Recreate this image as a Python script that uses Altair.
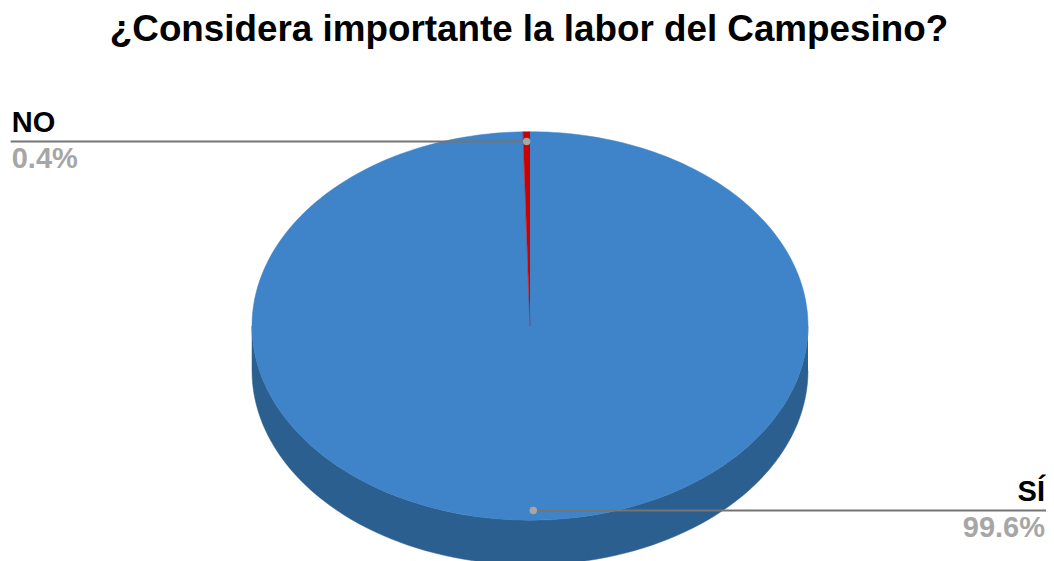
import math
import altair as alt
import pandas as pd

TITLE = "¿Considera importante la labor del Campesino?"
names = ["SÍ", "NO"]
shares = [99.6, 0.4]
labels = ["99.6%", "0.4%"]
colors = ["#3f83c8", "#cc0000"]
side_color = "#2b5f8f"
depth = 0.23       # pie thickness, in radii of the ellipse's short axis
dot_radius = 0.95  # where the leader line starts
label_edges = {"SÍ": 1.8561, "NO": -1.868}

X_DOM = [-1.8777, 1.8561]
Y_DOM = [-1.2103, 1.3795]

# polygons of the slices, clockwise from 12 o'clock
rows = []
start = 0.0
dots = []
for name, share, label, col in zip(names, shares, labels, colors):
    end = start + share / 100 * 360
    n = max(2, int(share * 3))
    order = 0
    rows.append(dict(slice=name, x=0.0, y=0.0, o=order))
    for i in range(n + 1):
        t = math.radians(start + (end - start) * i / n)
        order += 1
        rows.append(dict(slice=name, x=math.sin(t), y=math.cos(t), o=order))
    mid = math.radians((start + end) / 2)
    dots.append(dict(slice=name, label=label, x=dot_radius * math.sin(mid), y=dot_radius * math.cos(mid),
                     xe=label_edges[name]))
    start = end

# visible side of the pie: the lower half of the rim, shifted down
side = []
for i in range(91):
    t = math.radians(90 + i * 2)
    side.append(dict(x=math.sin(t), y=math.cos(t), o=i))
for i in range(91):
    t = math.radians(270 - i * 2)
    side.append(dict(x=math.sin(t), y=math.cos(t) - depth, o=91 + i))

xs = alt.Scale(domain=X_DOM, range=[0, 1038], nice=False, zero=False)
ys = alt.Scale(domain=Y_DOM, range=[503, 0], nice=False, zero=False)
X = alt.X("x:Q", scale=xs, axis=None)
Y = alt.Y("y:Q", scale=ys, axis=None)

side_layer = alt.Chart(pd.DataFrame(side)).mark_line(fill=side_color, stroke=side_color, strokeWidth=0.5, clip=True).encode(
    x=X, y=Y, order="o:Q")
slice_layer = alt.Chart(pd.DataFrame(rows)).mark_line(strokeWidth=0.5, clip=True).encode(
    x=X, y=Y, order="o:Q", detail="slice:N",
    stroke=alt.Color("slice:N", scale=alt.Scale(domain=names, range=colors), legend=None),
    fill=alt.Fill("slice:N", scale=alt.Scale(domain=names, range=colors), legend=None))

dd = pd.DataFrame(dots)
leader = alt.Chart(dd).mark_rule(color="#757575", strokeWidth=2).encode(x=X, x2="xe:Q", y=Y)
dot = alt.Chart(dd).mark_point(filled=True, color="#a6a6a6", size=55, opacity=1).encode(x=X, y=Y)
FONT = "Liberation Sans"
XE = alt.X("xe:Q", scale=xs, axis=None)


def text_layer(field, color, baseline, dy, align, test, dx):
    return alt.Chart(dd).transform_filter(test).mark_text(
        font=FONT, fontWeight="bold", fontSize=29, color=color, baseline=baseline, dy=dy, dx=dx, align=align
    ).encode(x=XE, y=Y, text=f"{field}:N")


texts = [
    text_layer("slice", "#000000", "bottom", -3, "left", "datum.xe < 0", 1),
    text_layer("slice", "#000000", "bottom", -3, "right", "datum.xe > 0", -1),
    text_layer("label", "#a6a6a6", "top", 4, "left", "datum.xe < 0", 1),
    text_layer("label", "#a6a6a6", "top", 4, "right", "datum.xe > 0", -1),
]

chart = alt.layer(side_layer, slice_layer, leader, dot, *texts).properties(
    width=1038, height=503,
    padding={"top": 50, "left": 0, "right": 0, "bottom": 0},
    autosize=alt.AutoSizeParams(type="none"),
    title=alt.TitleParams(TITLE, font=FONT, fontWeight="bold", fontSize=36.8, color="#000000", anchor="middle", offset=9, dx=2),
).configure_view(stroke=None)

chart.save("out.html", embed_options={"renderer": "svg", "actions": False})
